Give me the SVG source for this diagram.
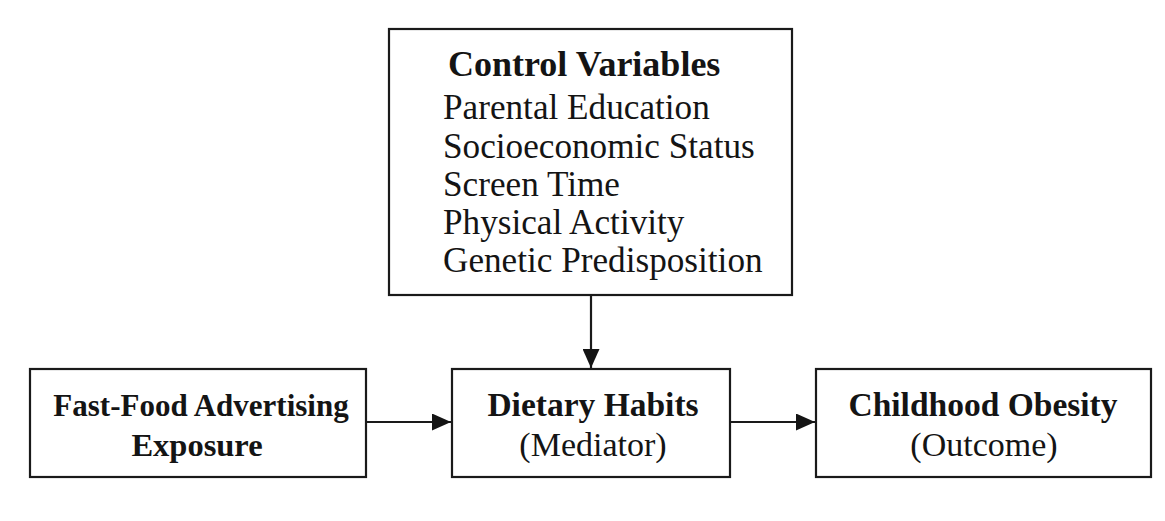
<svg xmlns="http://www.w3.org/2000/svg" width="1165" height="521" viewBox="0 0 1165 521">
<style>
.box{fill:#fff;stroke:#1a1a1a;stroke-width:2.2}
.t{font-family:"Liberation Serif","Times New Roman",serif;fill:#141414}
.b{font-weight:bold}
.c{text-anchor:middle}
.edge{stroke:#1a1a1a;stroke-width:2.2;fill:none}
</style>
<defs>
<marker id="ah" viewBox="0 0 10 10" refX="10" refY="5" markerWidth="19" markerHeight="17" markerUnits="userSpaceOnUse" orient="auto" preserveAspectRatio="none">
<path d="M0,0 L10,5 L0,10 Z" fill="#141414"/>
</marker>
</defs>
<rect width="1165" height="521" fill="#fff"/>
<g id="controls">
<rect class="box" x="389" y="29" width="403" height="266"/>
<text class="t b" x="448" y="76" font-size="36">Control Variables</text>
<text class="t" x="443" y="119" font-size="35.2">Parental Education</text>
<text class="t" x="443" y="158" font-size="35.2">Socioeconomic Status</text>
<text class="t" x="443" y="196" font-size="35.2">Screen Time</text>
<text class="t" x="443" y="234" font-size="35.2">Physical Activity</text>
<text class="t" x="443" y="272" font-size="35.2">Genetic Predisposition</text>
</g>
<g id="exposure">
<rect class="box" x="30" y="369" width="336" height="108"/>
<text class="t b c" x="201" y="416" font-size="31">Fast-Food Advertising</text>
<text class="t b c" x="197" y="456" font-size="32.5">Exposure</text>
</g>
<g id="mediator">
<rect class="box" x="452" y="369" width="278" height="108"/>
<text class="t b c" x="593" y="416" font-size="33.5">Dietary Habits</text>
<text class="t c" x="593" y="456" font-size="34">(Mediator)</text>
</g>
<g id="outcome">
<rect class="box" x="816" y="369" width="335" height="108"/>
<text class="t b c" x="983" y="416" font-size="33.5">Childhood Obesity</text>
<text class="t c" x="984" y="456" font-size="34">(Outcome)</text>
</g>
<g id="connectors">
<line class="edge" x1="591" y1="295" x2="591" y2="368" marker-end="url(#ah)"/>
<line class="edge" x1="366" y1="422" x2="451" y2="422" marker-end="url(#ah)"/>
<line class="edge" x1="730" y1="422" x2="815" y2="422" marker-end="url(#ah)"/>
</g>
</svg>
